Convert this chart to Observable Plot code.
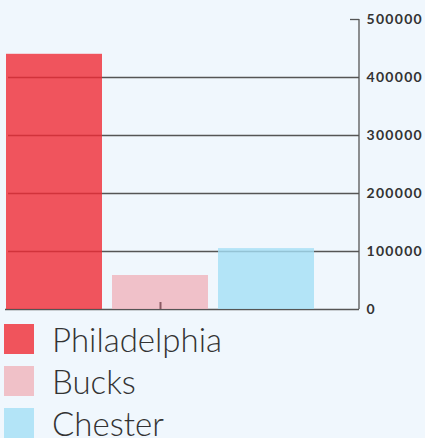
<!DOCTYPE html>
<html>
<head>
<meta charset="utf-8">
<script src="https://cdn.jsdelivr.net/npm/d3@7"></script>
<script src="https://cdn.jsdelivr.net/npm/@observablehq/plot@0.6"></script>
<style>
  html, body { margin: 0; padding: 0; background: #f0f7fd; overflow: hidden; }
  #chart svg { display: block; }
  #chart svg text { font-weight: 700; letter-spacing: 1.3px; }
  .legend { font-family: Lato, "Open Sans", sans-serif; font-weight: 300; color: #333; }
  .row { display: flex; align-items: center; height: 42px; }
  .sw { width: 30px; height: 30px; margin-left: 4px; margin-right: 18px; flex: none; }
  .lab { font-size: 33px; line-height: 42px; }
</style>
</head>
<body>
<div id="chart"></div>
<div class="legend" id="legend"></div>
<script>
const counties = ["Philadelphia", "Bucks", "Chester"];
const values = [440000, 58600, 105000];
const barColors = ["#f02b34", "#f0b3bb", "#a4dff5"];
const legendColors = ["#f0545c", "#f0c1c8", "#b3e4f7"];
const yTicks = [0, 100000, 200000, 300000, 400000, 500000];
const gridTicks = [100000, 200000, 300000, 400000];

const data = counties.map((c, i) => ({county: c, value: values[i]}));

function axisLine(index, scales, values, dims) {
  const x = dims.width - dims.marginRight;
  const line = document.createElementNS("http://www.w3.org/2000/svg", "line");
  line.setAttribute("x1", x);
  line.setAttribute("x2", x);
  line.setAttribute("y1", scales.y(500000));
  line.setAttribute("y2", scales.y(0));
  line.setAttribute("stroke", "#555");
  line.setAttribute("stroke-width", 1.3);
  return line;
}

const chart = Plot.plot({
  width: 425,
  height: 318,
  marginTop: 19,
  marginBottom: 9,
  marginLeft: 6,
  marginRight: 66,
  style: {background: "transparent", fontFamily: "Lato, sans-serif"},
  x: {domain: counties, range: [6, 315], paddingInner: 0.094, paddingOuter: 0, axis: null},
  y: {domain: [0, 500000], axis: null},
  color: {domain: counties, range: barColors},
  marks: [
    Plot.gridY(gridTicks, {stroke: "#555", strokeOpacity: 1, strokeWidth: 1.3, insetLeft: 2}),
    Plot.ruleY([0], {stroke: "#555", strokeWidth: 1.3, insetLeft: -1}),
    Plot.ruleY([500000], {stroke: "#555", strokeWidth: 1.3, insetLeft: 344}),
    Plot.barY(data, {x: "county", y: "value", fill: "county", fillOpacity: 0.8}),
    Plot.ruleX(["Bucks"], {stroke: "#8a5a63", strokeWidth: 2, insetTop: 283}),
    axisLine,
    Plot.axisY(yTicks, {
      anchor: "right", tickSize: 0, tickPadding: 7, label: null,
      tickFormat: d => String(d),
      fontSize: 14, fontWeight: "bold", fill: "#333"
    })
  ]
});
document.getElementById("chart").appendChild(chart);

const legend = document.getElementById("legend");
counties.forEach((c, i) => {
  const row = document.createElement("div");
  row.className = "row";
  const sw = document.createElement("div");
  sw.className = "sw";
  sw.style.background = legendColors[i];
  const lab = document.createElement("span");
  lab.className = "lab";
  lab.textContent = c;
  row.appendChild(sw);
  row.appendChild(lab);
  legend.appendChild(row);
});
</script>
</body>
</html>
